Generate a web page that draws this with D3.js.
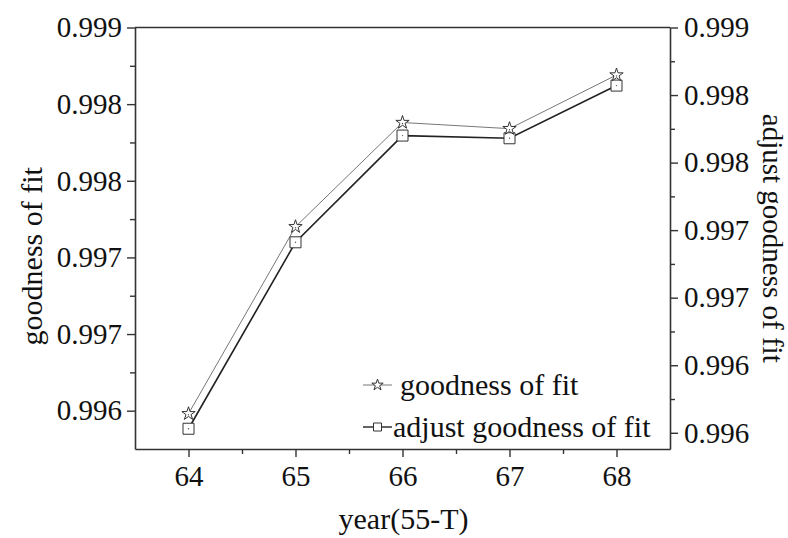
<!DOCTYPE html>
<html><head><meta charset="utf-8">
<script src="https://cdn.jsdelivr.net/npm/d3@7/dist/d3.min.js"></script>
<style>body{margin:0;background:#fff}svg{display:block}svg text{font-family:"Liberation Serif",Tinos,"Times New Roman",Times,"DejaVu Serif","Noto Serif",serif !important;fill:#111}</style>
</head><body><svg id="c" width="788" height="538"></svg>
<script>
const years = [64, 65, 66, 67, 68];
const goodness = [0.99648, 0.99770, 0.99838, 0.99834, 0.99869];
const adjusted = [0.99603, 0.99741, 0.99820, 0.99818, 0.99857];
const leftTicks = [0.9990, 0.9985, 0.9980, 0.9975, 0.9970, 0.9965];
const leftTickLabels = ["0.999", "0.998", "0.998", "0.997", "0.997", "0.996"];
const rightTicks = [0.9990, 0.9985, 0.9980, 0.9975, 0.9970, 0.9965, 0.9960];
const rightTickLabels = ["0.999", "0.998", "0.998", "0.997", "0.997", "0.996", "0.996"];
const xMinor = [64.5, 65.5, 66.5, 67.5];
const leftMinor = [0.99875, 0.99825, 0.99775, 0.99725, 0.99675];
const rightMinor = [0.99875, 0.99825, 0.99775, 0.99725, 0.99675, 0.99625];
const seriesNames = ["goodness of fit", "adjust goodness of fit"];

const FONT = '"Liberation Serif", Tinos, "Times New Roman", Times, "DejaVu Serif", serif';
const L = 135, R = 670, T = 27.5, B = 449;
const svg = d3.select("#c");
const x = d3.scaleLinear().domain([63.5, 68.5]).range([L, R]);
const yL = d3.scaleLinear().domain([0.99625, 0.9990]).range([B, T]);
const yR = d3.scaleLinear().domain([0.99588, 0.9990]).range([B, T]);
const axisColor = "#333";

function styleAxis(g) {
  g.attr("font-family", FONT);
  g.selectAll("path").attr("stroke", axisColor).attr("stroke-width", 1.6);
  g.selectAll("line").attr("stroke", axisColor).attr("stroke-width", 1.4);
  g.selectAll("text").attr("font-size", 29).attr("font-family", FONT).attr("fill", "#111");
}
function styleMinor(g) {
  g.select("path").remove();
  g.selectAll("line").attr("stroke", axisColor).attr("stroke-width", 1.4);
}

const gx = svg.append("g").attr("transform", `translate(0,${B})`)
  .call(d3.axisBottom(x).tickValues(years).tickFormat(d3.format("d")).tickSize(8).tickPadding(8).tickSizeOuter(0));
styleAxis(gx);
svg.append("g").attr("transform", `translate(0,${B})`)
  .call(d3.axisBottom(x).tickValues(xMinor).tickFormat("").tickSize(5).tickSizeOuter(0)).call(styleMinor);

const gl = svg.append("g").attr("transform", `translate(${L},0)`)
  .call(d3.axisLeft(yL).tickValues(leftTicks).tickFormat((d, i) => leftTickLabels[i]).tickSize(8).tickPadding(5).tickSizeOuter(0));
styleAxis(gl);
svg.append("g").attr("transform", `translate(${L},0)`)
  .call(d3.axisLeft(yL).tickValues(leftMinor).tickFormat("").tickSize(5).tickSizeOuter(0)).call(styleMinor);

const gr = svg.append("g").attr("transform", `translate(${R},0)`)
  .call(d3.axisRight(yR).tickValues(rightTicks).tickFormat((d, i) => rightTickLabels[i]).tickSize(8).tickPadding(6).tickSizeOuter(0));
styleAxis(gr);
svg.append("g").attr("transform", `translate(${R},0)`)
  .call(d3.axisRight(yR).tickValues(rightMinor).tickFormat("").tickSize(5).tickSizeOuter(0)).call(styleMinor);

// top border
svg.append("line").attr("x1", L).attr("x2", R).attr("y1", T).attr("y2", T)
  .attr("stroke", axisColor).attr("stroke-width", 1.6);

// axis titles
svg.append("text").attr("transform", `translate(42,${(T + B) / 2 + 18}) rotate(-90)`)
  .attr("text-anchor", "middle").attr("font-family", FONT).attr("font-size", 30).text("goodness of fit");
svg.append("text").attr("transform", `translate(763,${(T + B) / 2}) rotate(90)`)
  .attr("text-anchor", "middle").attr("font-family", FONT).attr("font-size", 29).text("adjust goodness of fit");
svg.append("text").attr("x", (L + R) / 2 + 1).attr("y", 529)
  .attr("text-anchor", "middle").attr("font-family", FONT).attr("font-size", 30).text("year(55-T)");

// series
const star = d3.symbol().type(d3.symbolStar).size(55);
const square = d3.symbol().type(d3.symbolSquare).size(121);

const lineG = d3.line().x((d, i) => x(years[i])).y(d => yL(d));
const lineA = d3.line().x((d, i) => x(years[i])).y(d => yR(d));

svg.append("path").attr("d", lineG(goodness)).attr("fill", "none").attr("stroke", "#777").attr("stroke-width", 1);
svg.append("path").attr("d", lineA(adjusted)).attr("fill", "none").attr("stroke", "#222").attr("stroke-width", 1.6);

svg.selectAll(".sq").data(adjusted).join("path").attr("class", "sq")
  .attr("transform", (d, i) => `translate(${x(years[i])},${yR(d)})`)
  .attr("d", square).attr("fill", "#fff").attr("stroke", "#333").attr("stroke-width", 1);
svg.selectAll(".sqd").data(adjusted).join("circle").attr("class", "sqd")
  .attr("cx", (d, i) => x(years[i])).attr("cy", d => yR(d)).attr("r", 0.7).attr("fill", "#555");

svg.selectAll(".st").data(goodness).join("path").attr("class", "st")
  .attr("transform", (d, i) => `translate(${x(years[i])},${yL(d)})`)
  .attr("d", star).attr("fill", "#fff").attr("stroke", "#333").attr("stroke-width", 1);
svg.selectAll(".std").data(goodness).join("circle").attr("class", "std")
  .attr("cx", (d, i) => x(years[i])).attr("cy", d => yL(d) + 1).attr("r", 0.7).attr("fill", "#555");

// legend
const leg = [{y: 385, col: "#777", w: 1, tx: 400}, {y: 427, col: "#222", w: 1.4, tx: 393}];
leg.forEach((l, i) => {
  svg.append("line").attr("x1", 363).attr("x2", 392).attr("y1", l.y).attr("y2", l.y)
    .attr("stroke", l.col).attr("stroke-width", l.w);
  svg.append("path").attr("transform", `translate(377.5,${l.y})`)
    .attr("d", i === 0 ? d3.symbol().type(d3.symbolStar).size(40)() : d3.symbol().type(d3.symbolSquare).size(64)())
    .attr("fill", "#fff").attr("stroke", "#333").attr("stroke-width", 1);
  svg.append("text").attr("x", l.tx).attr("y", l.y + 10).attr("font-family", FONT).attr("font-size", 30).text(seriesNames[i]);
});
</script></body></html>
